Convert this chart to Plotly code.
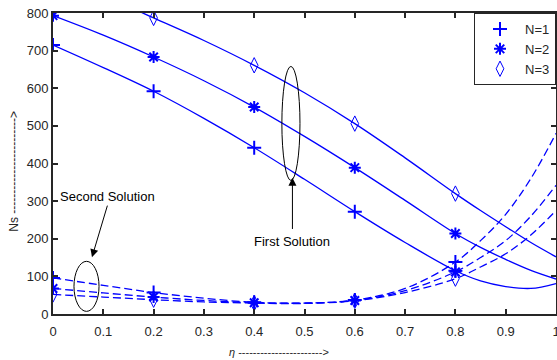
import plotly.graph_objects as go

# ---- data ----
eta = [0, 0.1, 0.2, 0.3, 0.4, 0.5, 0.6, 0.7, 0.8, 0.85, 0.9, 0.95, 1.0]

first_N1 = [715, 655, 592, 520, 442, 358, 272, 190, 115, 88, 73, 68, 81]
first_N2 = [793, 741, 683, 620, 550, 472, 389, 302, 214, 177, 145, 116, 93]
first_N3 = [900, 847, 787, 727, 661, 588, 506, 415, 320, 275, 232, 190, 152]

second_N1 = [96, 76, 57, 42, 31, 29, 37, 68, 138, 195, 265, 360, 480]
second_N2 = [68, 56, 45, 36, 30, 29, 36, 62, 112, 150, 195, 260, 342]
second_N3 = [52, 45, 38, 32, 29, 28, 35, 57, 94, 125, 160, 210, 275]

marker_eta = [0, 0.2, 0.4, 0.6, 0.8]

series_names = ["N=1", "N=2", "N=3"]
series_symbols = ["cross-thin-open", "asterisk-open", "diamond-tall-open"]

x_ticks = [0, 0.1, 0.2, 0.3, 0.4, 0.5, 0.6, 0.7, 0.8, 0.9, 1]
y_ticks = [0, 100, 200, 300, 400, 500, 600, 700, 800]

BLUE = "#0000FF"
DARK = "#262626"
FONT = "Liberation Sans, Arial, sans-serif"

fig = go.Figure()

def at(values, xs):
    return [values[eta.index(v)] for v in xs]

firsts = [first_N1, first_N2, first_N3]
seconds = [second_N1, second_N2, second_N3]

for i in range(3):
    fig.add_trace(go.Scatter(x=eta, y=firsts[i], mode="lines", line=dict(color=BLUE, width=1.3, shape="spline"),
                             showlegend=False, hoverinfo="skip"))
    fig.add_trace(go.Scatter(x=eta, y=seconds[i], mode="lines",
                             line=dict(color=BLUE, width=1.3, shape="spline", dash="8px,4px"),
                             showlegend=False, hoverinfo="skip"))

for i in range(3):
    sym = series_symbols[i]
    lw = 1 if "diamond" in sym else 2
    size = 11 if "diamond" in sym else 10
    mk = dict(symbol=sym, color=BLUE, size=size, line=dict(color=BLUE, width=lw))
    fig.add_trace(go.Scatter(x=marker_eta, y=at(firsts[i], marker_eta), mode="markers", marker=mk,
                             name=series_names[i]))
    fig.add_trace(go.Scatter(x=marker_eta, y=at(seconds[i], marker_eta), mode="markers", marker=mk,
                             showlegend=False))

axis_common = dict(showline=True, linecolor=DARK, linewidth=2, mirror="ticks", ticks="inside",
                   ticklen=5, tickwidth=1.5, tickcolor=DARK, showgrid=False, zeroline=False,
                   automargin=False, ticklabeloverflow="allow",
                   tickfont=dict(family=FONT, size=13, color=DARK))

fig.update_layout(
    width=557, height=360,
    margin=dict(l=53, r=1, t=13, b=46, autoexpand=False),
    paper_bgcolor="white", plot_bgcolor="white",
    font=dict(family=FONT, size=13, color=DARK),
    xaxis=dict(range=[0, 1], tickvals=x_ticks, ticktext=[f"{v:g}" for v in x_ticks],
               ticklabelstandoff=4, **axis_common),
    yaxis=dict(range=[0, 800], tickvals=y_ticks, ticktext=[str(v) for v in y_ticks], **axis_common),
    legend=dict(x=1, y=1, xanchor="right", yanchor="top", bordercolor=DARK, borderwidth=1,
                bgcolor="white", font=dict(family=FONT, size=13, color=DARK), itemwidth=40,
                tracegroupgap=0),
)

# axis titles
fig.add_annotation(xref="paper", yref="paper", x=0.45, y=-0.126, yanchor="middle",
                   text="<i>η</i> ----------------------->", showarrow=False,
                   font=dict(family=FONT, size=11, color=DARK))
fig.add_annotation(xref="paper", yref="paper", x=-0.078, y=0.475, xanchor="center", yanchor="middle",
                   text="Ns ------------------------>", textangle=-90, showarrow=False,
                   font=dict(family=FONT, size=12, color=DARK))

# solution labels
fig.add_annotation(x=0.109, y=312, text="Second Solution", showarrow=False,
                   font=dict(family=FONT, size=13, color="black"))
fig.add_annotation(x=0.0775, y=151, ax=0.109, ay=292, axref="x", ayref="y", text="",
                   showarrow=True, arrowhead=2, arrowsize=1.6, arrowwidth=1, arrowcolor="black")
fig.add_annotation(x=0.475, y=193, text="First Solution", showarrow=False,
                   font=dict(family=FONT, size=13, color="black"))
fig.add_annotation(x=0.476, y=362, ax=0.476, ay=222, axref="x", ayref="y", text="",
                   showarrow=True, arrowhead=2, arrowsize=1.6, arrowwidth=1, arrowcolor="black")

# ellipses
fig.add_shape(type="circle", xref="x", yref="y", x0=0.0417, x1=0.0915, y0=7, y1=140,
              line=dict(color="black", width=1))
fig.add_shape(type="circle", xref="x", yref="y", x0=0.455, x1=0.491, y0=355, y1=658,
              line=dict(color="black", width=1))

fig.write_html("out.html", config={"displayModeBar": False},
               post_script="document.body.style.margin='0';document.body.style.overflow='hidden';")
